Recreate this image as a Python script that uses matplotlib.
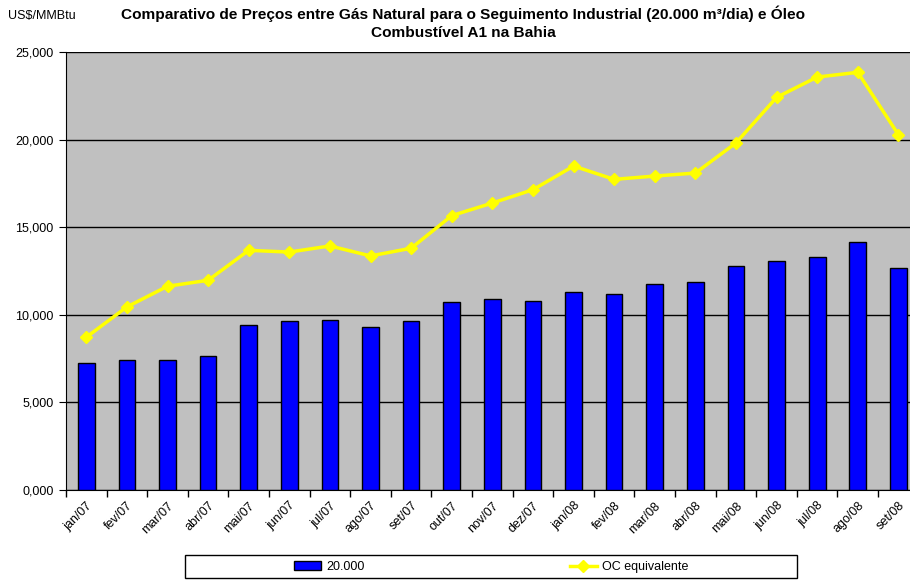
import numpy as np
import matplotlib
matplotlib.use('Agg')
import matplotlib.pyplot as plt
from matplotlib.ticker import FuncFormatter, FixedLocator

plt.rcParams['font.family'] = ['Liberation Sans', 'DejaVu Sans']

meses = ['jan/07', 'fev/07', 'mar/07', 'abr/07', 'mai/07', 'jun/07', 'jul/07',
         'ago/07', 'set/07', 'out/07', 'nov/07', 'dez/07', 'jan/08', 'fev/08',
         'mar/08', 'abr/08', 'mai/08', 'jun/08', 'jul/08', 'ago/08', 'set/08']
gn_20000 = [7.27, 7.44, 7.44, 7.67, 9.40, 9.63, 9.69, 9.29, 9.63, 10.71, 10.89,
            10.77, 11.28, 11.17, 11.74, 11.86, 12.77, 13.07, 13.30, 14.16, 12.67]
oc_equiv = [8.72, 10.45, 11.63, 11.97, 13.68, 13.58, 13.93, 13.36, 13.80, 15.66,
            16.38, 17.14, 18.49, 17.73, 17.92, 18.09, 19.81, 22.41, 23.57, 23.84, 20.28]

W, H = 910, 583
fig = plt.figure(figsize=(W / 100, H / 100), dpi=100)
ax = fig.add_axes([66 / W, (H - 490) / H, (918.7 - 66) / W, 438 / H])
ax.set_facecolor('#C0C0C0')

x = np.arange(len(meses))
bars = ax.bar(x, gn_20000, width=0.41, color='#0000FF', edgecolor='black', linewidth=1,
              label='20.000', zorder=3)
line, = ax.plot(x, oc_equiv, color='#FFFF00', linewidth=2.5, marker='D', markersize=6,
                label='OC equivalente', zorder=4)

ax.set_xlim(-0.5, len(meses) - 0.5)
ax.set_ylim(0, 25)
ax.set_yticks([0, 5, 10, 15, 20, 25])
ax.yaxis.set_major_formatter(FuncFormatter(lambda v, p: f'{v:.3f}'.replace('.', ',')))
ax.grid(axis='y', color='black', linewidth=1, zorder=1)

ax.set_xticks(x)
ax.set_xticklabels(meses, rotation=45, ha='right', va='top', rotation_mode='anchor')
ax.xaxis.set_minor_locator(FixedLocator(np.arange(-0.5, len(meses), 1.0)))
ax.tick_params(axis='x', which='major', length=0, pad=7, labelsize=9)
ax.tick_params(axis='x', which='minor', length=5, direction='out', width=1)
ax.tick_params(axis='y', length=5, direction='out', labelsize=9, pad=4)

for s in ['top', 'right']:
    ax.spines[s].set_visible(False)
ax.spines['left'].set_color('black')
ax.spines['bottom'].set_color('black')

fig.text(463 / W, 1 - 5 / H,
         'Comparativo de Preços entre Gás Natural para o Seguimento Industrial (20.000 m³/dia) e Óleo\nCombustível A1 na Bahia',
         ha='center', va='top', fontsize=11.1, fontweight='bold', linespacing=1.4)
fig.text(8 / W, 1 - 16 / H, 'US$/MMBtu', ha='left', va='center', fontsize=9)

# legend box
fig.patches.append(plt.Rectangle((185 / W, 1 - 578 / H), 612 / W, 23 / H,
                                 transform=fig.transFigure, facecolor='white',
                                 edgecolor='black', linewidth=1))
fig.legend([bars, line], ['20.000', 'OC equivalente'], loc='center',
           bbox_to_anchor=(491 / W, 1 - 567 / H), ncol=2,
           frameon=False, fontsize=9, columnspacing=16.4, handlelength=2.2,
           handletextpad=0.4)

fig.savefig('out.png', dpi=100)
